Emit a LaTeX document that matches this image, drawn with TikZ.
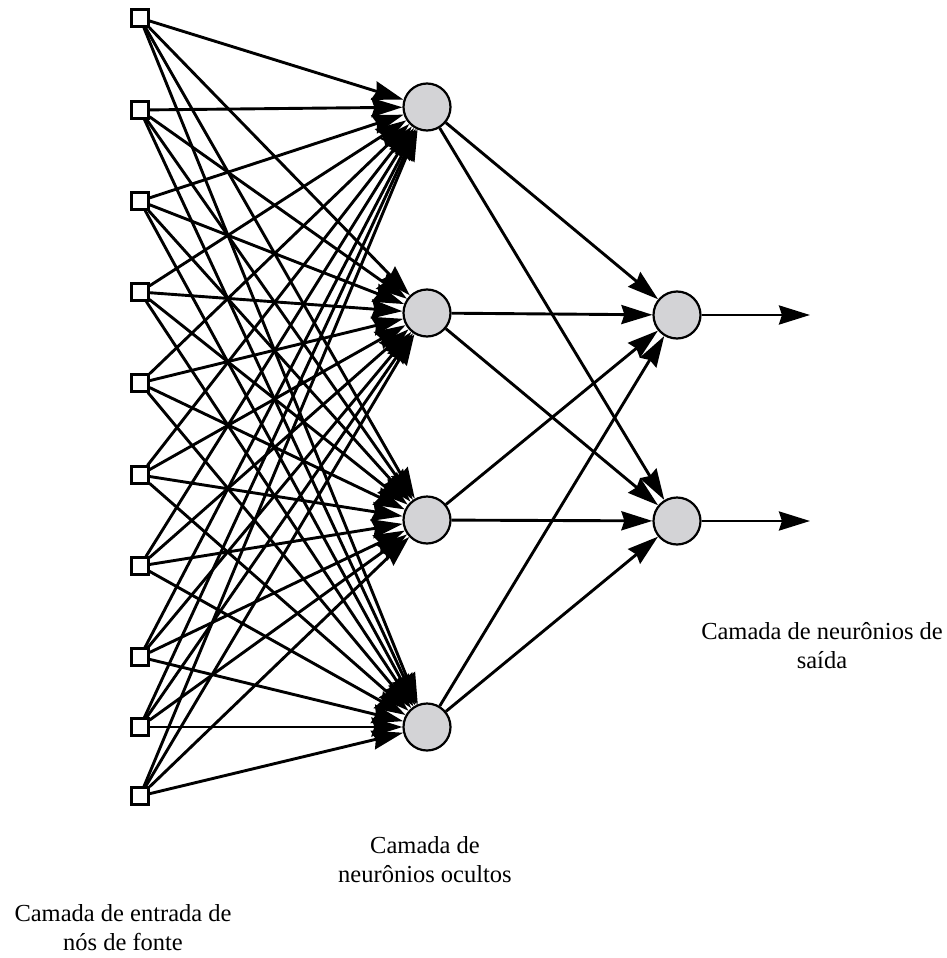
\documentclass[tikz,border=0pt]{standalone}
\usepackage{fontspec}
\setmainfont{Liberation Serif}
\usetikzlibrary{arrows.meta}
\definecolor{neurfill}{RGB}{211,211,214}
\begin{document}
\begin{tikzpicture}[x=1pt,y=-1pt,
  inp/.style={draw, line width=2.2pt, fill=white, minimum size=17pt, inner sep=0pt},
  neuron/.style={circle, draw, line width=2.2pt, fill=neurfill, minimum size=47pt, inner sep=0pt},
  syn/.style={line width=2.9pt, -{Stealth[length=31pt,width=19pt,inset=3pt]}},
  lbl/.style={font=\fontsize{24.5}{29}\selectfont, align=center}]
\useasboundingbox (0,0) rectangle (947,958);

% source nodes
\foreach \i/\y in {1/18,2/110,3/201,4/292,5/383,6/475,7/566,8/657,9/727,10/796}
  \node[inp] (x\i) at (140,\y) {};

% hidden neurons
\foreach \j/\y in {1/107,2/313,3/520,4/727}
  \node[neuron] (h\j) at (427,\y) {};

% output neurons
\foreach \k/\y in {1/315,2/521}
  \node[neuron] (o\k) at (677,\y) {};

% output terminals
\coordinate (y1) at (810,315);
\coordinate (y2) at (810,521);

% input -> hidden synapses
\foreach \i in {1,...,10}
  \foreach \j in {1,...,4}
    \draw[syn] (x\i) -- (h\j);

% hidden -> output synapses
\foreach \j in {1,...,4}
  \foreach \k in {1,2}
    \draw[syn] (h\j) -- (o\k);

% output signals
\draw[syn] (o1) -- (y1);
\draw[syn] (o2) -- (y2);

% layer captions
\node[lbl] (lin) at (123,928) {Camada de entrada de\\nós de fonte};
\node[lbl] (lhid) at (425,860) {Camada de\\neurônios ocultos};
\node[lbl] (lout) at (822,646) {Camada de neurônios de\\saída};
\end{tikzpicture}
\end{document}
